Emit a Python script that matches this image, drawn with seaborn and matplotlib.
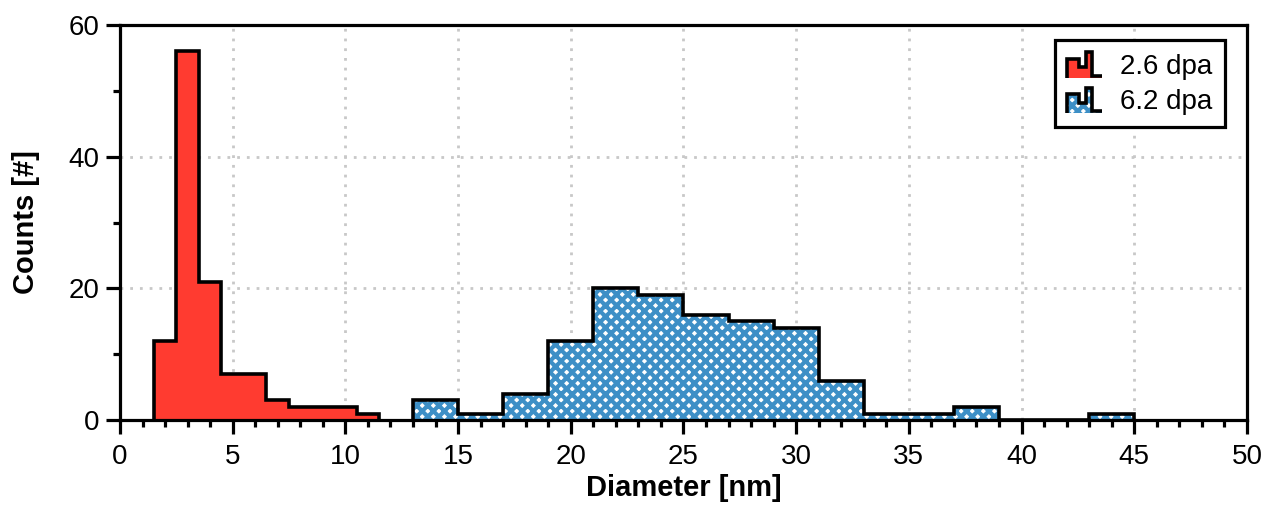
import numpy as np
import matplotlib
matplotlib.use("Agg")
import matplotlib.pyplot as plt
import seaborn as sns
from matplotlib.legend_handler import HandlerPatch
from matplotlib.patches import Polygon, Patch
from matplotlib.ticker import MultipleLocator
from matplotlib.backend_bases import GraphicsContextBase

# ---- data ----
red_edges = [1.5, 2.5, 3.5, 4.5, 5.5, 6.5, 7.5, 8.5, 9.5, 10.5, 11.5]
red_counts = [12, 56, 21, 7, 7, 3, 2, 2, 2, 1]
blue_edges = [13, 15, 17, 19, 21, 23, 25, 27, 29, 31, 33, 35, 37, 39, 41, 43, 45]
blue_counts = [3, 1, 4, 12, 20, 19, 16, 15, 14, 6, 1, 1, 2, 0, 0, 1]
labels = ["2.6 dpa", "6.2 dpa"]
red_color = "#ff3b30"
blue_color = "#3d8fc6"

# finer hatch spacing (about 11 px per diamond)
_orig_hatch_path = GraphicsContextBase.get_hatch_path
def _hatch_path(self, density=6.0):
    return _orig_hatch_path(self, density=18.8)
GraphicsContextBase.get_hatch_path = _hatch_path

sns.set_theme(style="white")
plt.rcParams["font.family"] = ["Liberation Sans", "DejaVu Sans"]
plt.rcParams["hatch.linewidth"] = 3.0
plt.rcParams["text.color"] = "black"
plt.rcParams["axes.labelcolor"] = "black"

fig = plt.figure(figsize=(12.71, 5.08), dpi=100)
ax = fig.add_axes([0.0944, 0.173, 0.8867, 0.778])

def centers(edges):
    e = np.asarray(edges, dtype=float)
    return (e[:-1] + e[1:]) / 2

# red filled
sns.histplot(x=centers(red_edges), weights=red_counts, bins=red_edges,
             element="step", fill=True, color=red_color, alpha=1,
             linewidth=0, ax=ax, zorder=2)
# blue: white background with blue crosshatch -> white diamonds
n_before = len(ax.collections)
sns.histplot(x=centers(blue_edges), weights=blue_counts, bins=blue_edges,
             element="step", fill=True, color=blue_color, alpha=1,
             linewidth=0, ax=ax, zorder=2)
for c in ax.collections[n_before:]:
    c.set_facecolor("white")
    c.set_edgecolor(blue_color)
    c.set_hatch("x")
    c.set_linewidth(0)

# black outlines
ax.stairs(red_counts, red_edges, color="black", linewidth=2.6, zorder=3)
ax.stairs(blue_counts, blue_edges, color="black", linewidth=2.6, zorder=3)

ax.set_xlim(0, 50)
ax.set_ylim(0, 60)
ax.xaxis.set_major_locator(MultipleLocator(5))
ax.xaxis.set_minor_locator(MultipleLocator(1))
ax.yaxis.set_major_locator(MultipleLocator(20))
ax.yaxis.set_minor_locator(MultipleLocator(10))

ax.grid(True, which="major", linestyle=(0, (1, 2.5)), color="#c8c8c8", linewidth=2)
ax.set_axisbelow(True)

for s in ax.spines.values():
    s.set_visible(True)
    s.set_color("black")
    s.set_linewidth(2.3)
    s.set_zorder(5)

ax.tick_params(which="major", direction="out", length=10, width=2.3,
               labelsize=20, color="black", labelcolor="black",
               bottom=True, left=True, top=False, right=False, pad=5)
ax.tick_params(axis="x", which="major", pad=7)
ax.tick_params(which="minor", direction="out", length=5, width=2.3,
               color="black", bottom=True, left=True, top=False, right=False)

ax.set_xlabel("Diameter [nm]", fontsize=21, fontweight="bold", labelpad=3)
ax.set_ylabel("Counts [#]", fontsize=21, fontweight="bold", labelpad=20)


class HistHandler(HandlerPatch):
    def create_artists(self, legend, orig_handle, xdescent, ydescent,
                       width, height, fontsize, trans):
        w = width
        h = height * 1.1
        x0 = -xdescent
        y0 = -ydescent - 0.1 * height
        xs = [0, 0, 0.32, 0.32, 0.52, 0.52, 0.72, 0.72, 1.0, 1.0]
        ys = [0, 0.75, 0.75, 0.42, 0.42, 1.0, 1.0, 0.08, 0.08, 0]
        pts = [(x0 + xf * w, y0 + yf * h) for xf, yf in zip(xs, ys)]
        fill = Polygon(pts, closed=True, facecolor=orig_handle.get_facecolor(),
                       edgecolor=orig_handle.get_edgecolor(),
                       hatch=orig_handle.get_hatch(), linewidth=0,
                       transform=trans)
        outline = Polygon(pts[:-1], closed=False, fill=False,
                          edgecolor="black", linewidth=2.6, transform=trans,
                          joinstyle="miter")
        return [fill, outline]


h1 = Patch(facecolor=red_color, edgecolor=red_color)
h2 = Patch(facecolor="white", edgecolor=blue_color, hatch="x")
leg = ax.legend([h1, h2], labels, loc="upper right", fontsize=20,
                handler_map={Patch: HistHandler()}, frameon=True,
                fancybox=False, edgecolor="black", framealpha=1,
                handlelength=1.25, handleheight=0.9, handletextpad=0.65,
                borderpad=0.45, labelspacing=0.3, borderaxespad=0,
                bbox_to_anchor=(0.9805, 0.962))
leg.get_frame().set_linewidth(2.3)

fig.savefig("out.png", dpi=100)
